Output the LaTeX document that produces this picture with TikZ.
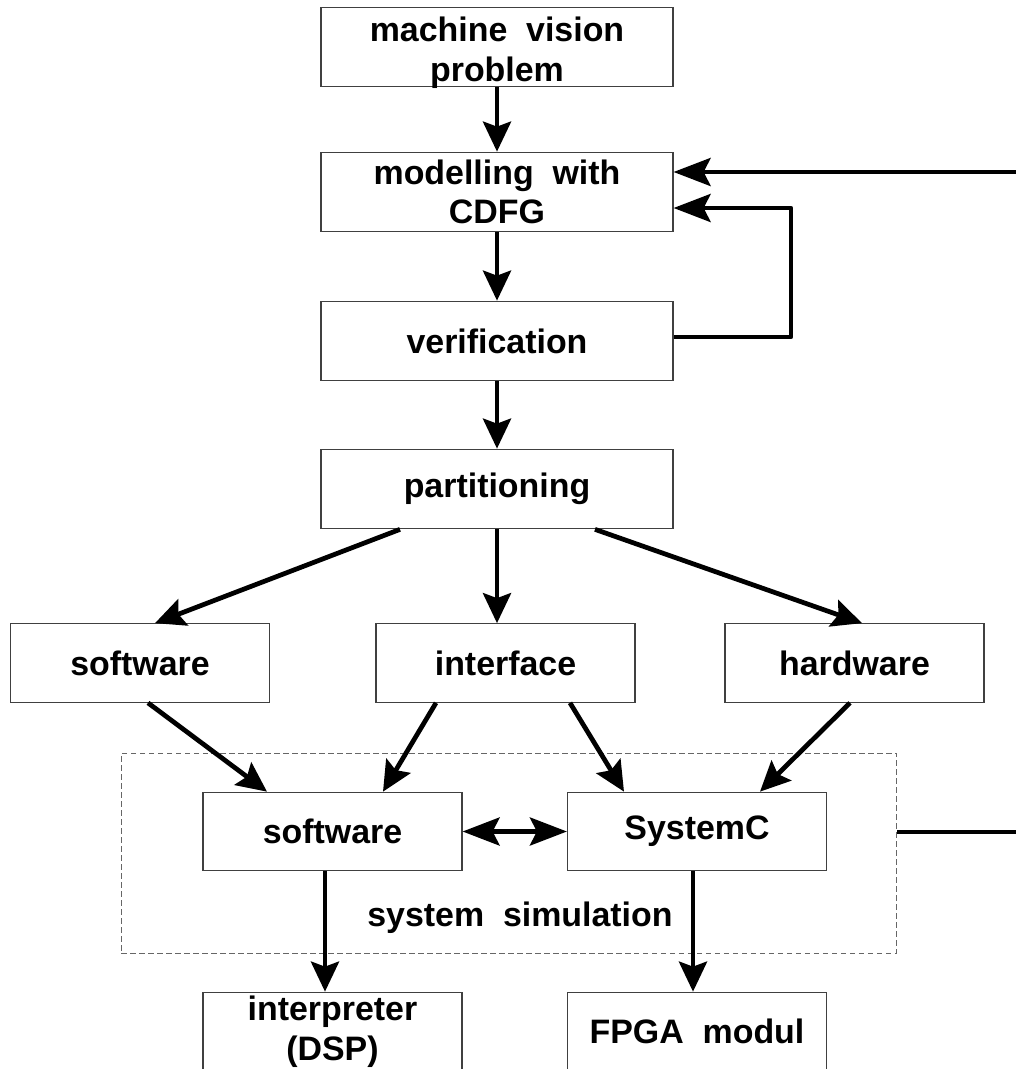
\documentclass[tikz,border=0pt]{standalone}
\usepackage{fontspec}
\setmainfont{Liberation Sans}[WordSpace=2]
\usetikzlibrary{calc,arrows.meta}

\tikzset{
  bloktxt/.style={align=center, inner sep=0pt, font=\bfseries\fontsize{19.3}{22.5}\selectfont},
  blok/.style={bloktxt, draw=black!75, line width=0.7pt, minimum width=5.18cm, minimum height=1.57cm},
  wideblok/.style={blok, minimum width=7.04cm, minimum height=1.59cm},
  simbox/.style={draw=black!60, line width=0.5pt, dash pattern=on 0.11cm off 0.07cm,
    minimum width=15.52cm, minimum height=4.0cm, inner sep=0pt},
  flow/.style={line width=2.7pt, line join=round, -{Stealth[length=0.6cm,width=0.56cm,inset=0.1cm]}},
  flowh/.style={line width=2.7pt, line join=round, -{Stealth[length=0.74cm,width=0.56cm,inset=0.14cm]}},
  both/.style={line width=2.7pt, {Stealth[length=0.74cm,width=0.56cm,inset=0.14cm]}-{Stealth[length=0.74cm,width=0.56cm,inset=0.14cm]}},
  plain/.style={line width=2.7pt},
}

\begin{document}
\begin{tikzpicture}[x=0.02cm,y=-0.02cm]

\useasboundingbox (0,0) rectangle (1016,1069);
\clip (0,0) rectangle (1016,1069);

% main chain
\node[wideblok, label={[bloktxt, yshift=-0.11cm]center:machine vision\\problem}] (prob) at (497,47) {};
\node[wideblok] (model) at (497,192) {modelling with\\CDFG};
\node[wideblok] (verif) at (497,341) {verification};
\node[wideblok] (part) at (497,489) {partitioning};

\node[blok] (sw) at (140,663) {software};
\node[blok] (intf) at (505.5,663) {interface};
\node[blok] (hw) at (854.5,663) {hardware};

% simulation
\node[simbox] (sim) at (509,853) {};
\node[blok] (swsim) at (332.5,831.5) {software};
\node[blok] (sysc) at (697,831.5) {SystemC};
\node[bloktxt] (simlabel) at (520,918) {system simulation};

\node[blok] (dsp) at (332.5,1031.5) {interpreter\\(DSP)};
\node[blok] (fpga) at (697,1031.5) {FPGA modul};

\coordinate (ext1) at (1016,172);
\coordinate (ext2) at (1016,832);
\coordinate (loopx) at (791,0);

\draw[flow] (prob) -- (model);
\draw[flow] (model) -- (verif);
\draw[flow] (verif) -- (part);

\coordinate (vfb) at ($(verif.east)+(0,-4)$);
\coordinate (mfb) at ($(model.east)+(0,16)$);
\draw[flowh] (vfb) -- (vfb -| loopx) -- (mfb -| loopx) -- (mfb);
\draw[flowh] (ext1) -- ($(model.east)+(0,-20)$);

\draw[flow] ($(part.south)+(-97,0)$) -- ($(sw.north)+(15,0)$);
\draw[flow] (part.south) -- (part.south |- intf.north);
\draw[flow] ($(part.south)+(98,0)$) -- ($(hw.north)+(7.5,0)$);

\draw[flow] ($(sw.south)+(8,0)$) -- ($(swsim.north)+(-65.5,0)$);
\draw[flow] ($(intf.south)+(-69.5,0)$) -- ($(swsim.north)+(50.5,0)$);
\draw[flow] ($(intf.south)+(64.5,0)$) -- ($(sysc.north)+(-73,0)$);
\draw[flow] ($(hw.south)+(-4.5,0)$) -- ($(sysc.north)+(63,0)$);

\draw[both] (swsim.east) -- (sysc.west);
\draw[flow] ($(swsim.south)+(-7.5,0)$) -- ($(dsp.north)+(-7.5,0)$);
\draw[flow] ($(sysc.south)+(-4,0)$) -- ($(fpga.north)+(-4,0)$);

\draw[plain] ($(sim.east)+(0,-21)$) -- (ext2);

\end{tikzpicture}
\end{document}
